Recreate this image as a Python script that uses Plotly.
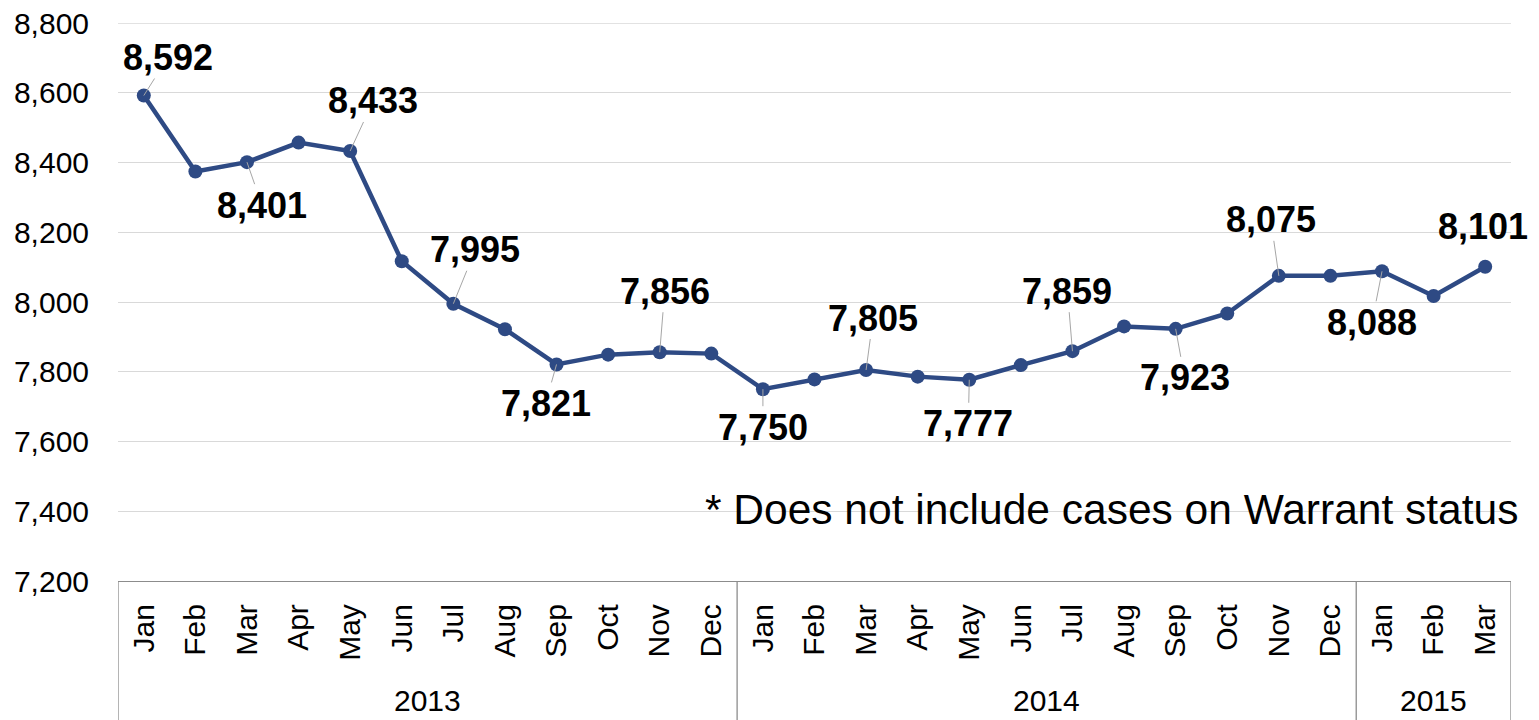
import plotly.graph_objects as go

# ---- data ----
years = ["2013"] * 12 + ["2014"] * 12 + ["2015"] * 3
months = ["Jan", "Feb", "Mar", "Apr", "May", "Jun", "Jul", "Aug", "Sep", "Oct", "Nov", "Dec",
          "Jan", "Feb", "Mar", "Apr", "May", "Jun", "Jul", "Aug", "Sep", "Oct", "Nov", "Dec",
          "Jan", "Feb", "Mar"]
caseload = [8592, 8374, 8401, 8457, 8433, 8117, 7995, 7922, 7821, 7849, 7856, 7852,
            7750, 7778, 7805, 7786, 7777, 7819, 7859, 7930, 7923, 7967, 8075, 8075,
            8088, 8017, 8101]
labeled_idx = [0, 2, 4, 6, 8, 10, 12, 14, 16, 18, 20, 22, 24, 26]
year_groups = ["2013", "2014", "2015"]
y_ticks = [7200, 7400, 7600, 7800, 8000, 8200, 8400, 8600, 8800]
footnote = "* Does not include cases on Warrant status"

# ---- styling (label offsets in pixels) ----
label_offsets = {0: (24, -38), 2: (15, 43), 4: (23, -50), 6: (22, -54), 8: (-11, 39),
                 10: (5, -61), 12: (0, 38), 14: (7, -52), 16: (-1, 44), 18: (-5, -60),
                 20: (9, 49), 22: (-8, -56), 24: (-10, 51), 26: (-2, -40)}
no_leader = {26}

LINE = "#2E4A84"
GRID = "#D9D9D9"
FONT = "Liberation Sans, Arial, sans-serif"

xs = list(range(len(caseload)))

fig = go.Figure()
fig.add_trace(go.Scatter(
    x=xs, y=caseload, mode="lines+markers",
    line=dict(color=LINE, width=4.5),
    marker=dict(color=LINE, size=14),
    hoverinfo="skip", showlegend=False, cliponaxis=False,
))

annotations = []
for i in labeled_idx:
    ax, ay = label_offsets[i]
    annotations.append(dict(
        x=xs[i], y=caseload[i], xref="x", yref="y",
        text="<b>" + f"{caseload[i]:,}" + "</b>", showarrow=True, arrowhead=0,
        arrowwidth=1,
        arrowcolor="rgba(0,0,0,0)" if i in no_leader else "#A6A6A6",
        ax=ax, ay=ay, borderpad=0,
        font=dict(family=FONT, size=36, color="#000000"),
    ))

# year group labels and dividers
shapes = []
start = 0
bounds = [-0.5]
for yr in year_groups:
    n = years.count(yr)
    center = start + (n - 1) / 2
    annotations.append(dict(
        x=center, y=-0.215, xref="x", yref="paper", text=yr, showarrow=False,
        xanchor="center", yanchor="middle",
        font=dict(family=FONT, size=30, color="#000000"),
    ))
    start += n
    bounds.append(start - 0.5)
for b in bounds:
    shapes.append(dict(type="line", xref="x", yref="paper", x0=b, x1=b, y0=0, y1=-0.3,
                       line=dict(color="#8C8C8C", width=1.3)))
# top gridline (edge of the plot area)
shapes.append(dict(type="line", xref="paper", yref="y", x0=0, x1=1,
                   y0=y_ticks[-1], y1=y_ticks[-1], layer="below",
                   line=dict(color=GRID, width=1.3)))

annotations.append(dict(
    x=1.0065, y=0.128, xref="paper", yref="paper", text=footnote, showarrow=False,
    xanchor="right", yanchor="middle",
    font=dict(family=FONT, size=42.5, color="#000000"),
))

fig.update_layout(
    width=1539, height=720,
    margin=dict(l=110, r=36, t=15, b=147, autoexpand=False),
    paper_bgcolor="white", plot_bgcolor="white",
    font=dict(family=FONT, color="#000000"),
    annotations=annotations, shapes=shapes,
    xaxis=dict(
        range=[-0.5, len(caseload) - 0.5], automargin=False,
        tickmode="array", tickvals=xs, ticktext=months,
        tickangle=-90, ticks="", ticklabelstandoff=10, ticklabeloverflow="allow",
        tickfont=dict(family=FONT, size=30, color="#000000"),
        showgrid=False, zeroline=False,
        showline=True, linecolor="#8C8C8C", linewidth=1.3,
    ),
    yaxis=dict(
        range=[7200, 8800], tickmode="array", tickvals=y_ticks, automargin=False,
        tickformat=",", ticks="", ticklabelstandoff=28, ticklabeloverflow="allow",
        tickfont=dict(family=FONT, size=30, color="#000000"),
        showgrid=True, gridcolor=GRID, gridwidth=1.3,
        zeroline=False, showline=False,
    ),
)

fig.write_html("out.html")
